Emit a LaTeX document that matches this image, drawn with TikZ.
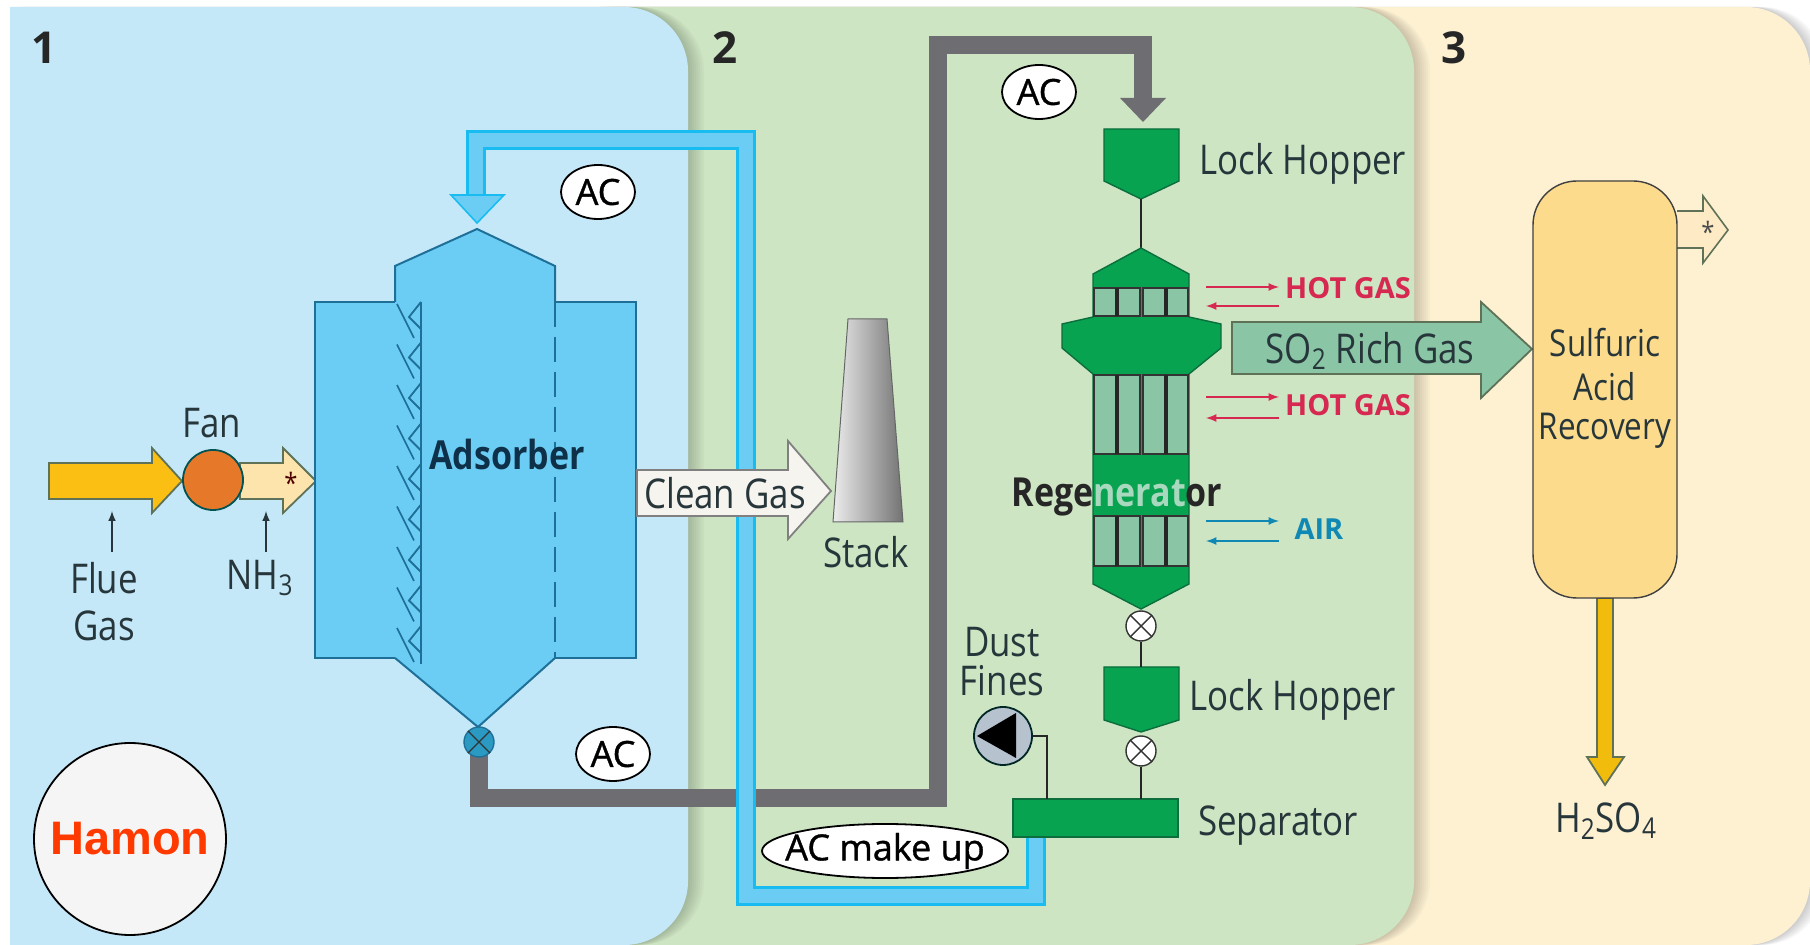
\documentclass[tikz,border=0pt]{standalone}
\usepackage{fontspec}
\setmainfont[FakeStretch=0.85]{Open Sans}
\newfontfamily\widefont{Open Sans}
\newfontfamily\bubblefont[FakeBold=1]{Open Sans}
\newfontfamily\logofont{Liberation Sans}
\usetikzlibrary{arrows,shapes.geometric}

\definecolor{panelblue}{HTML}{C5E8F9}
\definecolor{panelgreen}{HTML}{CDE5C3}
\definecolor{panelyellow}{HTML}{FDF1D2}
\definecolor{vesselblue}{HTML}{6BCDF4}
\definecolor{edgeblue}{HTML}{1F7098}
\definecolor{pipeblue}{HTML}{18BCF0}
\definecolor{pipegray}{HTML}{6E6E72}
\definecolor{plantgreen}{HTML}{08A350}
\definecolor{edgegreen}{HTML}{0B6E3C}
\definecolor{cellgreen}{HTML}{8AC6A6}
\definecolor{textdark}{HTML}{27363A}
\definecolor{hotred}{HTML}{D62850}
\definecolor{airblue}{HTML}{1088B4}
\definecolor{edgeolive}{HTML}{5F7257}
\definecolor{fluegold}{HTML}{FBBE12}
\definecolor{acidgold}{HTML}{F2BC0C}
\definecolor{peach}{HTML}{FDE3AC}
\definecolor{fanorange}{HTML}{E6782A}
\definecolor{towerfill}{HTML}{FCDB8C}
\definecolor{dustgrey}{HTML}{B6C2CD}
\definecolor{valveblue}{HTML}{2B9AC2}
\definecolor{cleanwhite}{HTML}{F6F4EE}
\definecolor{logored}{HTML}{FF3A00}
\definecolor{adsorbernavy}{HTML}{0E3048}
\definecolor{paletext}{HTML}{A8D8BE}

\tikzset{
  label text/.style={text=textdark,font=\fontsize{20.5}{24}\selectfont,inner sep=0pt},
  tower text/.style={text=textdark,font=\fontsize{18.5}{22}\selectfont,inner sep=0pt},
  heat text/.style={font=\widefont\bfseries\fontsize{14.5}{17}\selectfont,inner sep=0pt},
  number text/.style={text=black!85,font=\widefont\bfseries\fontsize{22}{26}\selectfont,inner sep=0pt},
  flow bubble/.style={ellipse,draw=black,line width=0.9pt,fill=white,inner sep=0pt,
    font=\bubblefont\fontsize{18}{22}\selectfont},
  valve/.style={circle,draw=black!80,line width=0.7pt,fill=white,minimum size=15pt,inner sep=0pt},
  vessel/.style={draw=edgeblue,line width=1pt},
  plant/.style={draw=edgegreen,line width=0.7pt,fill=plantgreen},
  block arrow/.style={draw=#1,line width=0.9pt,line join=miter},
  thin link/.style={draw=black!85,line width=0.8pt},
}

% one panel with its soft edge on the right
\newcommand{\panel}[3]{
  \foreach \d in {2,4,...,16}
    \fill[black,opacity=0.022,xshift=\d*0.5pt] (#1,7) [rounded corners=32pt] -- (#2,7) -- (#2,945) [sharp corners] -- (#1,945) -- cycle;
  \fill[#3] (#1,7) [rounded corners=32pt] -- (#2,7) -- (#2,945) [sharp corners] -- (#1,945) -- cycle;
}
% cells of the regenerator between two heights
\newcommand{\cellrow}[2]{
  \foreach \xa/\xm/\xb in {1094/1117/1140,1143/1166/1188} {
    \draw[fill=cellgreen,draw=black!80,line width=0.7pt] (\xa,#1) rectangle (\xb,#2);
    \draw[black!85,line width=2pt] (\xm,#1)--(\xm,#2);
  }
}
\newcommand{\crossvalve}[1]{
  \draw[black!80,line width=0.7pt] (#1.north west)--(#1.south east) (#1.north east)--(#1.south west);
}

\begin{document}
\begin{tikzpicture}[>=latex,x=0.5pt,y=-0.5pt]

\useasboundingbox (0,0) rectangle (1810,945);
\fill[white] (0,0) rectangle (1810,945);

\panel{600}{1810}{panelyellow}
\panel{600}{1414}{panelgreen}
\panel{10}{688}{panelblue}

\node[number text] (numOne) at (44,48) {1};
\node[number text] (numTwo) at (725,48) {2};
\node[number text] (numThree) at (1454,48) {3};

% flue gas side
\draw[block arrow=edgeolive,fill=fluegold] (49,463)--(152,463)--(152,448)--(182,481)--(152,513)--(152,499)--(49,499)--cycle;
\draw[block arrow=edgeolive,fill=peach] (240,463)--(283,463)--(283,448)--(316,481)--(283,513)--(283,499)--(240,499)--cycle;
\node[circle,draw=black!35!teal,line width=0.9pt,fill=fanorange,minimum size=30pt,inner sep=0pt] (fan) at (213,480) {};
\node[font=\fontsize{14}{16}\selectfont,text=black!70!red,inner sep=0pt] (star) at (291,483) {*};
\node[label text] (fanText) at (212,423) {Fan};
\node[label text] (flueText) at (104,578) {Flue};
\node[label text] (gasText) at (104,626) {Gas};
\node[label text] (nhText) at (260,578) {NH\textsubscript{3}};
\coordinate (flueTip) at (112,511);
\coordinate (nhTip) at (266,511);
\draw[->,textdark,line width=0.7pt] (112,552)--(flueTip);
\draw[->,textdark,line width=0.7pt] (266,552)--(nhTip);

% pipes
\coordinate (greyA) at (479,742);
\coordinate (greyB) at (479,798);
\coordinate (greyC) at (938,798);
\coordinate (greyD) at (938,45);
\coordinate (greyE) at (1143,45);
\coordinate (greyF) at (1143,100);
\draw[pipegray,line width=9pt] (greyA)--(greyB)--(greyC)--(greyD)--(greyE)--(greyF);
\fill[pipegray] (1120,98)--(1166,98)--(1143,122)--cycle;

\coordinate (blueA) at (1036,830);
\coordinate (blueB) at (1036,896);
\coordinate (blueC) at (746,896);
\coordinate (blueD) at (746,140);
\coordinate (blueE) at (476,140);
\coordinate (blueF) at (476,197);
\draw[pipeblue,line width=1.2pt,double=vesselblue,double distance=7.2pt] (blueA)--(blueB)--(blueC)--(blueD)--(blueE)--(blueF);
\draw[pipeblue,fill=vesselblue,line width=0.8pt] (451,195)--(504,195)--(477,223)--cycle;

% adsorber
\draw[vessel,fill=vesselblue] (315,302) rectangle (636,658);
\fill[vesselblue] (477,229)--(555,266)--(555,658)--(478,727)--(395,658)--(395,266)--cycle;
\draw[vessel] (395,302)--(395,266)--(477,229)--(555,266)--(555,302);
\draw[vessel] (395,658)--(478,727)--(555,658);
\draw[edgeblue,line width=1pt,dash pattern=on 12.5pt off 5pt] (555,302)--(555,658);
\draw[edgeblue,line width=1.4pt] (421,302)--(421,664);
\foreach \y in {304,344.5,...,630} {
  \draw[edgeblue,line width=0.8pt] (397,\y)--(414,\y+34);
  \draw[edgeblue,line width=0.9pt] (421,\y-2)--(409,\y+13)--(421,\y+25);
}
\node[text=adsorbernavy,font=\bfseries\fontsize{20}{24}\selectfont,inner sep=0pt] (adsorberText) at (507,455) {Adsorber};
\node[valve,fill=valveblue,draw=edgeblue] (valveA) at (479,742) {};
\crossvalve{valveA}

% clean gas and stack
\draw[block arrow=gray,fill=cleanwhite] (637,470)--(788,470)--(788,441)--(831,491)--(788,539)--(788,516)--(637,516)--cycle;
\node[label text] (cleanText) at (725,493) {Clean Gas};
\draw[black!60,line width=0.5pt,left color=white!85!gray,right color=black!55] (848,319)--(887,319)--(903,522)--(833,522)--cycle;
\node[label text] (stackText) at (866,552) {Stack};

% regenerator line
\draw[plant] (1104,129)--(1179,129)--(1179,181)--(1141,199)--(1104,181)--cycle;
\coordinate (hopperTopEnd) at (1141,199);
\coordinate (regenApex) at (1141,248);
\draw[thin link] (hopperTopEnd)--(regenApex);
\draw[plant] (1141,248)--(1189,274)--(1189,317)--(1221,324)--(1221,348)--(1189,374)--(1189,584)--(1141,609)--(1093,584)--(1093,374)--(1062,348)--(1062,324)--(1093,317)--(1093,274)--cycle;
\cellrow{288}{316}
\cellrow{375}{454}
\cellrow{516}{566}
\node[font=\bfseries\fontsize{20}{24}\selectfont,text=black!85,inner sep=0pt] (regenText) at (1117,497) {Rege\textcolor{paletext}{nerat}or};

\node[valve] (valveB) at (1141,626) {};
\crossvalve{valveB}
\draw[plant] (1104,667)--(1179,667)--(1179,720)--(1141,732)--(1104,720)--cycle;
\node[valve] (valveC) at (1141,751) {};
\crossvalve{valveC}
\draw[plant] (1013,799) rectangle (1178,837);
\coordinate (hopperLowTop) at (1141,667);
\coordinate (separatorTop) at (1141,799);
\draw[thin link] (valveB)--(hopperLowTop);
\draw[thin link] (valveC)--(separatorTop);

\node[circle,draw=black!70!teal,line width=0.9pt,fill=dustgrey,minimum size=29pt,inner sep=0pt] (dust) at (1003,736) {};
\fill[black] (977,736)--(1016,713)--(1016,758)--cycle;
\coordinate (dustBend) at (1047,736);
\coordinate (dustEnd) at (1047,799);
\draw[thin link] (dust)--(dustBend)--(dustEnd);

% heat lines
\foreach \n/\ya/\yb/\c in {a/287/306/hotred,b/397/418/hotred,c/521/541/airblue} {
  \coordinate (in\n) at (1206,\ya);
  \coordinate (out\n) at (1279,\ya);
  \coordinate (back\n) at (1279,\yb);
  \coordinate (end\n) at (1206,\yb);
  \draw[->,\c,line width=0.8pt] (in\n)--(out\n);
  \draw[->,\c,line width=0.8pt] (back\n)--(end\n);
}
\node[heat text,text=hotred] (hotTextA) at (1348,288) {HOT GAS};
\node[heat text,text=hotred] (hotTextB) at (1348,405) {HOT GAS};
\node[heat text,text=airblue] (airText) at (1319,529) {AIR};

% recovery
\draw[block arrow=edgeolive,fill=cellgreen] (1232,322)--(1481,322)--(1481,302)--(1532,349)--(1481,398)--(1481,374)--(1232,374)--cycle;
\node[label text] (richText) at (1370,351) {SO\textsubscript{2} Rich Gas};
\draw[block arrow=edgeolive,fill=acidgold] (1597,598)--(1613,598)--(1613,757)--(1624,757)--(1605,785)--(1587,757)--(1597,757)--cycle;
\path[fill=peach!70!white,draw=edgeolive,line width=0.8pt] (1677,211)--(1703,211)--(1703,196)--(1728,230)--(1703,263)--(1703,248)--(1677,248);
\node[font=\fontsize{14}{16}\selectfont,text=black!70,inner sep=0pt] (starOut) at (1708,232) {*};
\node[rectangle,rounded corners=22pt,draw=black!75,line width=0.7pt,fill=towerfill,minimum width=72pt,minimum height=208.5pt,inner sep=0pt] (tower) at (1605,389.5) {};
\node[tower text] (sulfText) at (1605,343) {Sulfuric};
\node[tower text] (acidText) at (1605,387) {Acid};
\node[tower text] (recoText) at (1605,431) {Recovery};
\node[label text] (acidOutText) at (1606,821) {H\textsubscript{2}SO\textsubscript{4}};

% plain labels
\node[label text] (lockTextA) at (1303,164) {Lock Hopper};
\node[label text] (lockTextB) at (1293,700) {Lock Hopper};
\node[label text] (sepText) at (1278,826) {Separator};
\node[label text] (dustText) at (1002,642) {Dust};
\node[label text] (finesText) at (1002,681) {Fines};

\node[flow bubble,minimum width=37pt,minimum height=27pt] (bubbleA) at (1039,92) {\makebox[0pt]{AC}};
\node[flow bubble,minimum width=37pt,minimum height=27pt] (bubbleB) at (598,192) {\makebox[0pt]{AC}};
\node[flow bubble,minimum width=37pt,minimum height=27pt] (bubbleC) at (613,754) {\makebox[0pt]{AC}};
\node[flow bubble,minimum width=123pt,minimum height=27pt] (bubbleD) at (885,851) {\makebox[0pt]{AC make up}};

\node[circle,draw=black,line width=0.9pt,fill=white!96!black,minimum size=96pt,inner sep=0pt,text=logored,font=\logofont\bfseries\fontsize{23.5}{28}\selectfont] (hamon) at (130,839) {Hamon};

\end{tikzpicture}
\end{document}
